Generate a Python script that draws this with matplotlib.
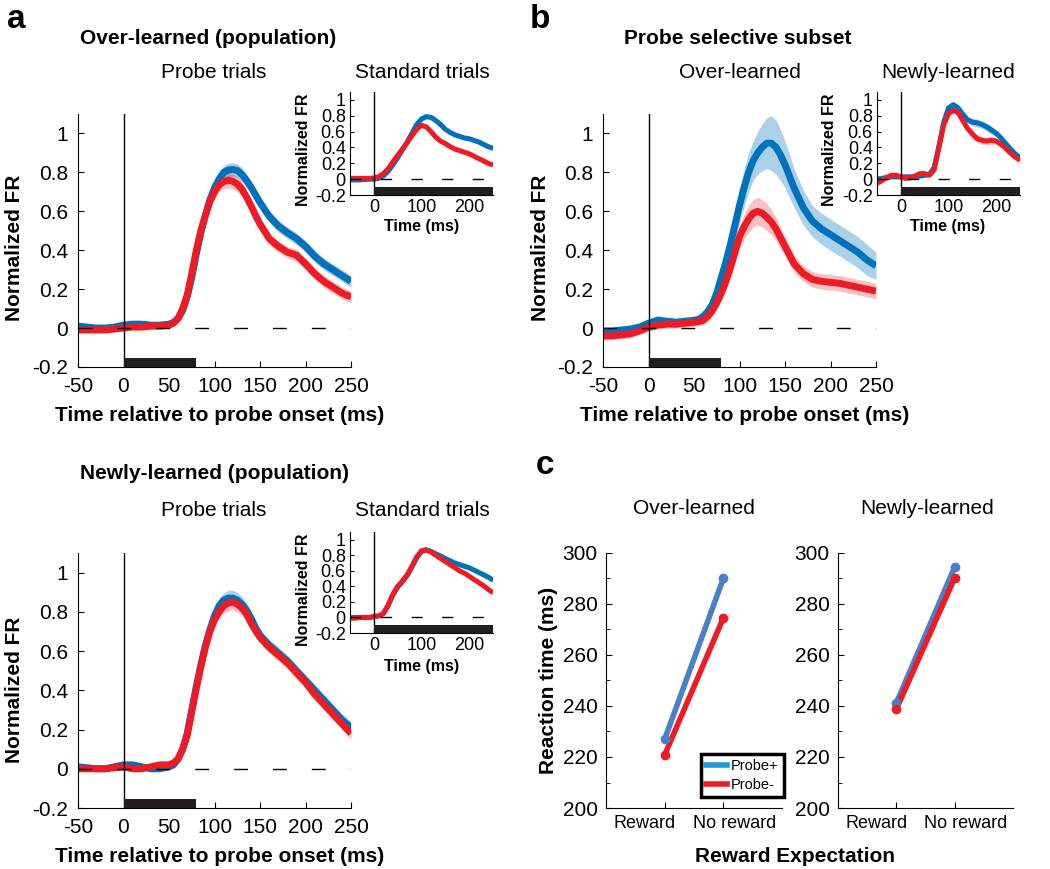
"""Probe / standard trial firing rates and reaction times (panels a, b, c)"""

import numpy as np
import matplotlib
matplotlib.use("Agg")
import matplotlib.pyplot as plt
from matplotlib.ticker import FormatStrFormatter, MultipleLocator
from matplotlib.transforms import ScaledTranslation

plt.rcParams["font.family"] = ["Liberation Sans", "DejaVu Sans"]
plt.rcParams["axes.unicode_minus"] = False

W, H = 1050, 869

# ---- data ---------------------------------------------------------------
# main (probe trial) traces: 5 ms steps through the response, 10 ms elsewhere
t_main = [-50, -40, -30, -20, -10, 0, 10, 20, 30, 40, 50,
          55, 60, 65, 70, 75, 80, 85, 90, 95, 100, 105, 110, 115, 120, 125, 130, 135, 140, 145, 150,
          160, 170, 180, 190, 200, 210, 220, 230, 240, 250]
# inset (standard trial) traces
t_inset = [-50, -40, -30, -20, -10, 0, 10, 20, 30, 40, 50, 60, 70, 80, 90, 100,
           110, 120, 130, 140, 150, 160, 170, 180, 190, 200, 210, 220, 230, 240, 250]
fr_ticks = [-0.2, 0, 0.2, 0.4, 0.6, 0.8, 1]
time_ticks_main = [-50, 0, 50, 100, 150, 200, 250]
time_ticks_inset = [0, 100, 200]
probe_bar_ms = 80
standard_bar_ms = 250

# a, over-learned population, probe trials
ol_probe_plus = [0.01, 0.005, 0.0, 0.0, 0.005, 0.015, 0.02, 0.02, 0.015, 0.015, 0.02,
                 0.03, 0.05, 0.09, 0.16, 0.26, 0.38, 0.49, 0.58, 0.66, 0.72, 0.765, 0.80, 0.812, 0.815, 0.81,
                 0.79, 0.76, 0.725, 0.685, 0.645,
                 0.575, 0.525, 0.49, 0.46, 0.42, 0.37, 0.33, 0.30, 0.27, 0.24]
ol_probe_plus_sem = [0.01, 0.01, 0.01, 0.01, 0.01, 0.01, 0.01, 0.01, 0.01, 0.01, 0.01,
                     0.01, 0.012, 0.013, 0.015, 0.018, 0.02, 0.022, 0.025, 0.028, 0.03, 0.032, 0.035, 0.035, 0.035,
                     0.035, 0.035, 0.033, 0.03, 0.03, 0.03,
                     0.03, 0.03, 0.03, 0.03, 0.03, 0.03, 0.03, 0.03, 0.03, 0.03]
ol_probe_minus = [-0.01, -0.01, -0.01, -0.01, -0.005, 0.0, 0.005, 0.005, 0.01, 0.01, 0.015,
                  0.025, 0.05, 0.10, 0.17, 0.28, 0.40, 0.50, 0.58, 0.65, 0.70, 0.735, 0.752, 0.76, 0.755, 0.74,
                  0.715, 0.675, 0.63, 0.58, 0.535,
                  0.46, 0.42, 0.39, 0.375, 0.33, 0.28, 0.24, 0.21, 0.18, 0.16]
ol_probe_minus_sem = [0.01, 0.01, 0.01, 0.01, 0.01, 0.01, 0.01, 0.01, 0.01, 0.01, 0.01,
                      0.01, 0.012, 0.013, 0.015, 0.018, 0.02, 0.022, 0.025, 0.028, 0.03, 0.033, 0.036, 0.04, 0.04,
                      0.04, 0.038, 0.035, 0.033, 0.03, 0.03,
                      0.03, 0.03, 0.03, 0.03, 0.03, 0.03, 0.03, 0.03, 0.03, 0.03]
# a, over-learned population, standard trials
ol_std_plus = [-0.01, -0.01, -0.01, -0.005, 0.0, 0.0, 0.01, 0.04, 0.10, 0.18, 0.27, 0.37, 0.47, 0.58, 0.69, 0.76,
               0.79, 0.78, 0.74, 0.69, 0.63, 0.59, 0.56, 0.54, 0.52, 0.51, 0.49, 0.47, 0.44, 0.41, 0.39]
ol_std_minus = [0.01, 0.01, 0.01, 0.01, 0.01, 0.015, 0.03, 0.07, 0.13, 0.22, 0.30, 0.38, 0.46, 0.55, 0.63, 0.68,
                0.66, 0.60, 0.53, 0.48, 0.45, 0.41, 0.38, 0.36, 0.34, 0.32, 0.29, 0.26, 0.23, 0.20, 0.18]
ol_std_sem = [0.015, 0.015, 0.015, 0.015, 0.015, 0.015, 0.015, 0.02, 0.02, 0.02, 0.02, 0.02, 0.02, 0.025, 0.03, 0.03,
              0.03, 0.03, 0.03, 0.03, 0.03, 0.03, 0.03, 0.03, 0.03, 0.03, 0.03, 0.03, 0.03, 0.03, 0.03]

# a, newly-learned population, probe trials
nl_probe_plus = [0.01, 0.005, 0.0, 0.0, 0.01, 0.02, 0.02, 0.01, 0.0, 0.0, 0.01,
                 0.02, 0.05, 0.10, 0.18, 0.30, 0.42, 0.53, 0.63, 0.71, 0.78, 0.83, 0.86, 0.87, 0.87, 0.86,
                 0.84, 0.81, 0.77, 0.72, 0.68,
                 0.63, 0.59, 0.55, 0.50, 0.45, 0.40, 0.35, 0.30, 0.25, 0.21]
nl_probe_minus = [0.0, 0.0, 0.0, 0.0, 0.005, 0.01, 0.0, 0.0, 0.01, 0.02, 0.02,
                  0.03, 0.05, 0.10, 0.17, 0.29, 0.41, 0.52, 0.62, 0.70, 0.76, 0.80, 0.83, 0.845, 0.85, 0.84,
                  0.82, 0.79, 0.745, 0.705, 0.67,
                  0.62, 0.58, 0.54, 0.49, 0.44, 0.38, 0.33, 0.28, 0.23, 0.18]
nl_probe_sem = [0.01, 0.01, 0.01, 0.01, 0.01, 0.015, 0.015, 0.01, 0.01, 0.01, 0.01,
                0.01, 0.012, 0.013, 0.015, 0.018, 0.02, 0.022, 0.025, 0.028, 0.03, 0.033, 0.036, 0.04, 0.04,
                0.04, 0.038, 0.035, 0.033, 0.03, 0.03,
                0.03, 0.03, 0.03, 0.03, 0.03, 0.03, 0.03, 0.03, 0.03, 0.03]
# a, newly-learned population, standard trials
nl_std_plus = [0.0, 0.0, 0.0, 0.0, 0.0, 0.01, 0.02, 0.05, 0.15, 0.29, 0.39, 0.46, 0.54, 0.65, 0.77, 0.85,
               0.87, 0.85, 0.82, 0.79, 0.76, 0.73, 0.70, 0.68, 0.66, 0.64, 0.61, 0.58, 0.55, 0.52, 0.48]
nl_std_minus = [-0.01, -0.01, 0.0, 0.0, 0.0, 0.01, 0.02, 0.05, 0.16, 0.30, 0.40, 0.47, 0.55, 0.66, 0.78, 0.86,
                0.87, 0.84, 0.80, 0.76, 0.72, 0.68, 0.64, 0.60, 0.57, 0.53, 0.49, 0.45, 0.41, 0.36, 0.32]
nl_std_sem = [0.015, 0.015, 0.015, 0.015, 0.015, 0.015, 0.015, 0.02, 0.02, 0.02, 0.02, 0.02, 0.02, 0.025, 0.03, 0.03,
              0.03, 0.03, 0.03, 0.03, 0.03, 0.03, 0.03, 0.03, 0.03, 0.03, 0.03, 0.03, 0.03, 0.03, 0.03]

# b, probe selective subset, over-learned (probe trials)
sel_ol_plus = [-0.015, -0.015, -0.01, -0.005, 0.005, 0.025, 0.04, 0.035, 0.03, 0.035, 0.04,
               0.045, 0.06, 0.085, 0.12, 0.18, 0.26, 0.34, 0.43, 0.53, 0.63, 0.72, 0.80, 0.86, 0.90, 0.93,
               0.95, 0.95, 0.93, 0.89, 0.84,
               0.72, 0.62, 0.55, 0.51, 0.48, 0.45, 0.42, 0.39, 0.35, 0.32]
sel_ol_plus_sem = [0.01, 0.01, 0.01, 0.01, 0.015, 0.02, 0.025, 0.02, 0.02, 0.02, 0.02,
                   0.02, 0.025, 0.03, 0.04, 0.05, 0.06, 0.07, 0.08, 0.085, 0.09, 0.095, 0.1, 0.1, 0.11, 0.12,
                   0.13, 0.14, 0.14, 0.13, 0.12,
                   0.1, 0.09, 0.08, 0.08, 0.08, 0.08, 0.08, 0.08, 0.08, 0.07]
sel_ol_minus = [-0.04, -0.04, -0.035, -0.03, -0.015, 0.005, 0.015, 0.02, 0.02, 0.025, 0.03,
                0.033, 0.04, 0.06, 0.09, 0.13, 0.18, 0.24, 0.31, 0.39, 0.47, 0.52, 0.56, 0.59, 0.60, 0.59,
                0.57, 0.545, 0.51, 0.465, 0.42,
                0.33, 0.28, 0.25, 0.24, 0.235, 0.23, 0.22, 0.21, 0.20, 0.19]
sel_ol_minus_sem = [0.02, 0.02, 0.02, 0.02, 0.02, 0.02, 0.02, 0.02, 0.02, 0.02, 0.02,
                    0.02, 0.025, 0.027, 0.03, 0.035, 0.04, 0.045, 0.05, 0.055, 0.06, 0.065, 0.07, 0.07, 0.07,
                    0.07, 0.07, 0.065, 0.06, 0.055, 0.05,
                    0.045, 0.04, 0.04, 0.04, 0.04, 0.04, 0.04, 0.04, 0.04, 0.04]
# b, probe selective subset, newly-learned (standard-trial inset)
sel_nl_plus = [0.0, 0.01, 0.02, 0.03, 0.03, 0.03, 0.03, 0.03, 0.03, 0.04, 0.05, 0.06, 0.15, 0.42, 0.72, 0.90,
               0.94, 0.90, 0.82, 0.75, 0.72, 0.71, 0.69, 0.66, 0.62, 0.58, 0.52, 0.45, 0.38, 0.32, 0.27]
sel_nl_minus = [-0.05, -0.02, 0.02, 0.05, 0.05, 0.03, 0.01, 0.02, 0.04, 0.07, 0.07, 0.05, 0.12, 0.40, 0.68, 0.83,
                0.87, 0.84, 0.74, 0.64, 0.57, 0.51, 0.49, 0.48, 0.49, 0.48, 0.44, 0.39, 0.33, 0.28, 0.24]
sel_nl_sem = [0.03, 0.03, 0.03, 0.03, 0.03, 0.03, 0.03, 0.03, 0.03, 0.03, 0.03, 0.03, 0.03, 0.04, 0.04, 0.04,
              0.04, 0.04, 0.04, 0.04, 0.05, 0.05, 0.05, 0.05, 0.05, 0.04, 0.04, 0.04, 0.04, 0.04, 0.04]

# c, reaction times
rt_conditions = ["Reward", "No reward"]
rt_ol_plus = [227.0, 290.0]
rt_ol_minus = [220.8, 274.5]
rt_nl_plus = [241.2, 294.5]
rt_nl_minus = [238.8, 290.2]
rt_sem = [1.2, 1.5]

BLUE = "#0072BD"
RED = "#ED1C24"
RT_BLUE = "#4A80C8"


def px_axes(fig, left, top, right, bottom):
    """Axes from pixel box (origin top-left)"""
    return fig.add_axes([left / W, 1 - bottom / H, (right - left) / W, (bottom - top) / H])


def px_text(fig, x, y, s, **kw):
    kw.setdefault("ha", "center")
    kw.setdefault("va", "center")
    fig.text(x / W, 1 - y / H, s, **kw)


def strip(ax):
    ax.spines["top"].set_visible(False)
    ax.spines["right"].set_visible(False)
    ax.patch.set_alpha(0)


def draw_fr(ax, plus, plus_sem, minus, minus_sem, inset=False):
    t = np.array(t_inset if inset else t_main, dtype=float)
    plus, plus_sem = np.array(plus), np.array(plus_sem)
    minus, minus_sem = np.array(minus), np.array(minus_sem)
    lw = 3.6 if inset else 5.0
    ax.fill_between(t, plus - plus_sem, plus + plus_sem, color=BLUE, alpha=0.33, lw=0)
    ax.fill_between(t, minus - minus_sem, minus + minus_sem, color=RED, alpha=0.28, lw=0)
    ax.plot(t, plus, color=BLUE, lw=lw, solid_capstyle="butt", solid_joinstyle="round")
    ax.plot(t, minus, color=RED, lw=lw, solid_capstyle="butt", solid_joinstyle="round")
    ax.axvline(0, color="k", lw=1.0, zorder=4)
    ax.plot([-50, 250], [0, 0], color="k", lw=1.0, dashes=(10, 18) if not inset else (8, 14), zorder=5)
    bar_end = standard_bar_ms if inset else probe_bar_ms
    bar_top = -0.1 if inset else -0.155
    ax.fill_between([0, bar_end], -0.2, bar_top, color="#231F20", lw=0, zorder=6)
    ax.set_xlim(-50, 250)
    ax.set_ylim(-0.2, 1.1)
    ax.set_yticks(fr_ticks)
    ax.yaxis.set_major_formatter(FormatStrFormatter("%g"))
    if inset:
        ax.set_xticks(time_ticks_inset)
        ax.tick_params(direction="in", length=3, labelsize=13, pad=3)
    else:
        ax.set_xticks(time_ticks_main)
        ax.tick_params(direction="in", length=4, labelsize=15, pad=7)
    strip(ax)


def draw_rt(ax, plus, minus, show_legend=False):
    x = [1, 2]
    ax.plot(x, plus, color=RT_BLUE, lw=4, label="Probe+")
    ax.plot(x, minus, color=RED, lw=4, label="Probe-")
    ax.errorbar(x, plus, yerr=rt_sem, fmt="o", color=RT_BLUE, ms=6, elinewidth=3, capsize=0)
    ax.errorbar(x, minus, yerr=rt_sem, fmt="o", color=RED, ms=6, elinewidth=3, capsize=0)
    ax.set_xlim(0, 3)
    ax.set_ylim(200, 300)
    ax.set_yticks(range(200, 301, 20))
    ax.yaxis.set_minor_locator(MultipleLocator(10))
    ax.set_xticks(x)
    ax.set_xticklabels(rt_conditions)
    ax.tick_params(axis="y", which="both", direction="in", labelsize=15, pad=6)
    ax.tick_params(axis="y", which="major", length=4)
    ax.tick_params(axis="y", which="minor", length=3)
    ax.tick_params(axis="x", direction="in", length=4, labelsize=13, pad=5)
    shifts = [-20, 11]
    for lab, dx in zip(ax.get_xticklabels(), shifts):
        lab.set_transform(lab.get_transform() + ScaledTranslation(dx / 100, 0, ax.figure.dpi_scale_trans))
    strip(ax)
    if show_legend:
        leg = ax.legend(loc="upper left", bbox_to_anchor=(694 / W, 1 - 747 / H),
                        bbox_transform=ax.figure.transFigure, fontsize=10.5,
                        handlelength=1.4, handletextpad=0.3, borderpad=0.35,
                        labelspacing=0.3, fancybox=False, framealpha=1)
        leg.get_frame().set_edgecolor("k")
        leg.get_frame().set_linewidth(2.5)
        for line in leg.get_lines():
            line.set_linewidth(4)
        leg.get_lines()[0].set_color("#1F9BD7")


def main():
    fig = plt.figure(figsize=(W / 100, H / 100), dpi=100)

    # panel letters and group titles
    px_text(fig, 16, 20, "a", fontsize=24, fontweight="bold")
    px_text(fig, 540, 20, "b", fontsize=24, fontweight="bold")
    px_text(fig, 545, 466, "c", fontsize=24, fontweight="bold")
    px_text(fig, 80, 38, "Over-learned (population)", fontsize=15, fontweight="bold", ha="left")
    px_text(fig, 80, 474, "Newly-learned (population)", fontsize=15, fontweight="bold", ha="left")
    px_text(fig, 624, 38, "Probe selective subset", fontsize=15, fontweight="bold", ha="left")

    # a, top
    ax = px_axes(fig, 78, 114, 351, 367)
    draw_fr(ax, ol_probe_plus, ol_probe_plus_sem, ol_probe_minus, ol_probe_minus_sem)
    px_text(fig, 214, 72, "Probe trials", fontsize=15)
    px_text(fig, 15, 248, "Normalized FR", fontsize=15, fontweight="bold", rotation=90)
    px_text(fig, 220, 415, "Time relative to probe onset (ms)", fontsize=15, fontweight="bold")
    ax = px_axes(fig, 350, 92, 493, 195)
    draw_fr(ax, ol_std_plus, ol_std_sem, ol_std_minus, ol_std_sem, inset=True)
    px_text(fig, 422, 73, "Standard trials", fontsize=15)
    px_text(fig, 303, 150, "Normalized FR", fontsize=11.5, fontweight="bold", rotation=90)
    px_text(fig, 422, 226, "Time (ms)", fontsize=11.5, fontweight="bold")

    # a, bottom
    ax = px_axes(fig, 78, 553, 351, 808)
    draw_fr(ax, nl_probe_plus, nl_probe_sem, nl_probe_minus, nl_probe_sem)
    px_text(fig, 214, 510, "Probe trials", fontsize=15)
    px_text(fig, 15, 690, "Normalized FR", fontsize=15, fontweight="bold", rotation=90)
    px_text(fig, 220, 857, "Time relative to probe onset (ms)", fontsize=15, fontweight="bold")
    ax = px_axes(fig, 350, 532, 493, 633)
    draw_fr(ax, nl_std_plus, nl_std_sem, nl_std_minus, nl_std_sem, inset=True)
    px_text(fig, 422, 510, "Standard trials", fontsize=15)
    px_text(fig, 303, 590, "Normalized FR", fontsize=11.5, fontweight="bold", rotation=90)
    px_text(fig, 422, 666, "Time (ms)", fontsize=11.5, fontweight="bold")

    # b
    ax = px_axes(fig, 603, 114, 876, 367)
    draw_fr(ax, sel_ol_plus, sel_ol_plus_sem, sel_ol_minus, sel_ol_minus_sem)
    px_text(fig, 740, 72, "Over-learned", fontsize=15)
    px_text(fig, 540, 248, "Normalized FR", fontsize=15, fontweight="bold", rotation=90)
    px_text(fig, 745, 415, "Time relative to probe onset (ms)", fontsize=15, fontweight="bold")
    ax = px_axes(fig, 877, 92, 1020, 195)
    draw_fr(ax, sel_nl_plus, sel_nl_sem, sel_nl_minus, sel_nl_sem, inset=True)
    px_text(fig, 948, 73, "Newly-learned", fontsize=15)
    px_text(fig, 830, 150, "Normalized FR", fontsize=11.5, fontweight="bold", rotation=90)
    px_text(fig, 948, 226, "Time (ms)", fontsize=11.5, fontweight="bold")

    # c
    ax = px_axes(fig, 606, 553, 782, 808)
    draw_rt(ax, rt_ol_plus, rt_ol_minus, show_legend=True)
    px_text(fig, 694, 508, "Over-learned", fontsize=15)
    ax = px_axes(fig, 838, 553, 1013, 808)
    draw_rt(ax, rt_nl_plus, rt_nl_minus)
    px_text(fig, 927, 508, "Newly-learned", fontsize=15)
    px_text(fig, 548, 680, "Reaction time (ms)", fontsize=15, fontweight="bold", rotation=90)
    px_text(fig, 795, 857, "Reward Expectation", fontsize=15, fontweight="bold")

    fig.savefig("out.png", dpi=100)


if __name__ == "__main__":
    main()
